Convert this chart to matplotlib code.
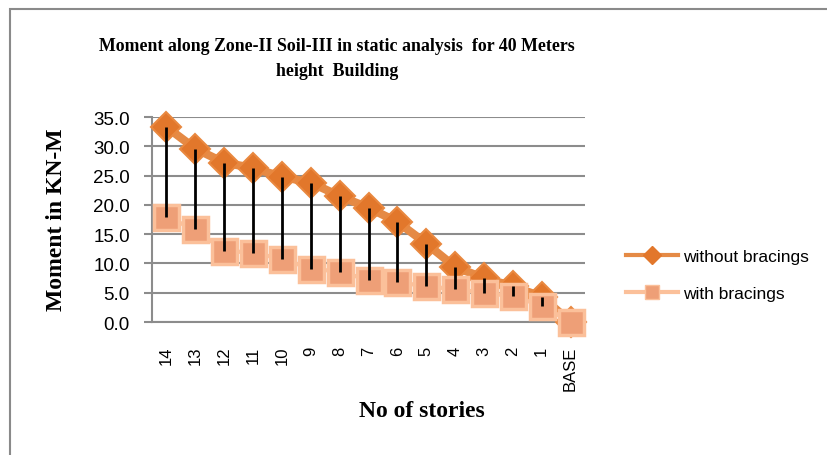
import numpy as np
import matplotlib
matplotlib.use("Agg")
import matplotlib.pyplot as plt
from matplotlib.lines import Line2D
from matplotlib.patches import Rectangle

stories = ["14", "13", "12", "11", "10", "9", "8", "7", "6", "5", "4", "3", "2", "1", "BASE"]
without_bracings = [33.3, 29.6, 27.2, 26.3, 24.8, 23.8, 21.5, 19.5, 17.1, 13.4, 9.4, 7.5, 6.1, 4.3, 0.0]
with_bracings = [17.9, 15.8, 12.2, 11.8, 10.8, 9.1, 8.6, 7.2, 6.8, 6.1, 5.6, 5.0, 4.4, 2.8, 0.0]

yticks = np.arange(0, 36, 5)

dark_orange = "#E2772B"
dark_line = "#E58A45"
light_face = "#EE9F77"
light_edge = "#FBC09A"
grid_gray = "#8C8C8C"

fig = plt.figure(figsize=(8.28, 4.56), dpi=100)
axis = fig.add_axes([152 / 828, 1 - 323 / 456, 433 / 828, 205 / 456])

xpos = np.arange(len(stories))

axis.plot(xpos, without_bracings, color=dark_line, lw=6, zorder=3,
          solid_capstyle="round", clip_on=False)
axis.plot(xpos, without_bracings, ls="none", marker="D", ms=15,
          mfc=dark_orange, mec="#E9883F", mew=1.5, zorder=4, clip_on=False)
axis.plot(xpos, with_bracings, color=light_edge, lw=3, zorder=5, clip_on=False)
axis.plot(xpos, with_bracings, ls="none", marker="s", ms=18,
          mfc=light_face, mec=light_edge, mew=2.5, zorder=6, clip_on=False)
# high-low lines between the two series
axis.vlines(xpos, with_bracings, without_bracings, colors="black", lw=2, zorder=7)

axis.set_xlim(-0.5, len(stories) - 0.5)
axis.set_ylim(0, 35)
axis.set_yticks(yticks)
axis.set_yticklabels([f"{v:.1f}" for v in yticks], fontsize=13.5, family="Liberation Sans")
axis.set_xticks(xpos)
axis.set_xticklabels(stories, rotation=90, fontsize=12, family="Liberation Sans",
                     va="top")
axis.tick_params(axis="y", length=6, width=1.5, color=grid_gray, pad=10)
axis.tick_params(axis="x", length=0, pad=17)
axis.grid(axis="y", color=grid_gray, lw=1.5, zorder=0)
axis.set_axisbelow(True)
for side in ["top", "right"]:
    axis.spines[side].set_visible(False)
for side in ["left", "bottom"]:
    axis.spines[side].set_color(grid_gray)
    axis.spines[side].set_linewidth(1.5)

fig.text(57 / 828, 1 - 220 / 456, "Moment in KN-M", rotation=90, ha="center",
         va="center", fontsize=17, fontweight="bold", family="Liberation Serif")
fig.text(422 / 828, 1 - 412 / 456, "No of stories", ha="center", va="center",
         fontsize=17, fontweight="bold", family="Liberation Serif")
fig.text(337 / 828, 1 - 59 / 456,
         "Moment along Zone-II Soil-III in static analysis  for 40 Meters\nheight  Building",
         ha="center", va="center", fontsize=12.9, fontweight="bold",
         family="Liberation Serif", linespacing=1.6)

handles = [
    Line2D([], [], color=dark_line, lw=3, marker="D", ms=9, mfc=dark_orange, mec=dark_orange),
    Line2D([], [], color=light_edge, lw=3, marker="s", ms=10, mfc=light_face, mec=light_edge),
]
fig.legend(handles, ["without bracings", "with bracings"], loc="center left",
           bbox_to_anchor=(626 / 828, 1 - 276 / 456), frameon=False,
           prop={"family": "Liberation Sans", "size": 12.5}, handlelength=3.0,
           handletextpad=0.3, labelspacing=1.3, borderpad=0, borderaxespad=0)

fig.patches.append(Rectangle((10 / 828, -0.05), 1.1, 1 - 10 / 456 + 0.05,
                             transform=fig.transFigure, fill=False,
                             edgecolor="#8A8A8A", lw=1.5))

fig.savefig("out.png", dpi=100)
